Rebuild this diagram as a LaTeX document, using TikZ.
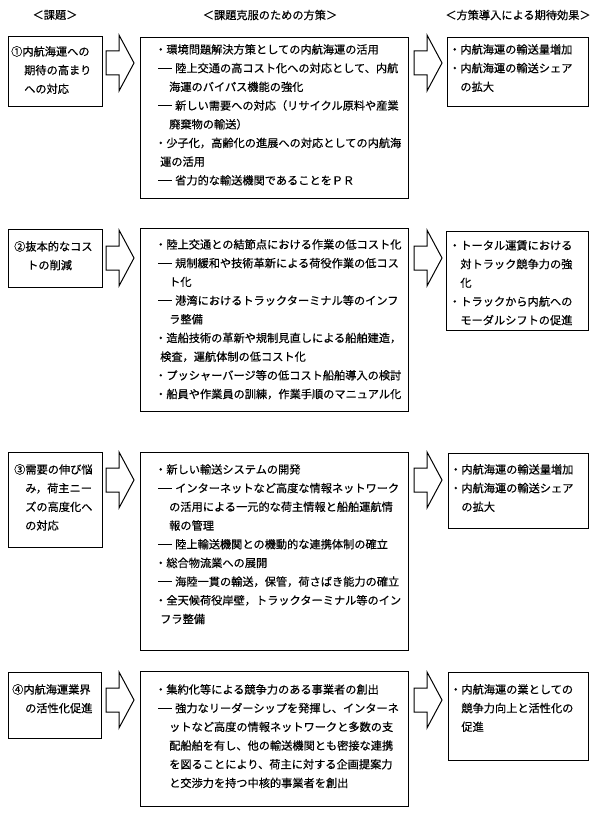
\documentclass[tikz,border=0pt]{standalone}
\usepackage{fontspec}
\newfontfamily\jpfont[FakeBold=0.4]{Noto Sans CJK JP}
\usetikzlibrary{positioning}

\tikzset{
  frame/.style={draw, line width=1.1pt, inner sep=0pt, anchor=north west},
  bodytext/.style={anchor=north west, inner sep=0pt, align=left,
     font=\jpfont\fontsize{11.2}{18.7}\selectfont},
  sidetext/.style={bodytext, font=\jpfont\fontsize{11.2}{18.7}\selectfont},
  heading/.style={inner sep=0pt, font=\jpfont\fontsize{11.2}{13}\selectfont},
  fatarrow/.pic={
    \draw[line width=1pt, line join=miter]
      (0,-12) -- (13,-12) -- (13,-28) -- (28,0) -- (13,28) -- (13,12) -- (0,12) -- cycle;
  }
}
\newcommand{\bdash}{\hspace{3pt}\rule[3.6pt]{14pt}{0.9pt}\hspace{3pt}}
\newcommand{\dind}{\hspace{14pt}}
\newcommand{\bind}{\hspace{5pt}}

\begin{document}
\begin{tikzpicture}[x=1pt, y=-1pt]
   \useasboundingbox (0,0) rectangle (600,813);
   % Headings
   \node[heading] (h1) at (55,15) {＜課題＞};
   \node[heading] (h2) at (270,15) {＜課題克服のための方策＞};
   \node[heading] (h3) at (518,15) {＜方策導入による期待効果＞};

   % Row 1
   \node[frame, minimum width=94pt, minimum height=70pt] (p1) at (8,36) {};
   \node[sidetext] (p1t) at (11,46) {①内航海運への\\\hspace{13pt}期待の高まり\\\hspace{13pt}への対応};
   \pic at (106,63) {fatarrow};
   \node[frame, minimum width=268pt, minimum height=161pt] (m1) at (140,37) {};
   \node[bodytext] (m1t) at (155,44) {・環境問題解決方策としての内航海運の活用\\
\bdash 陸上交通の高コスト化への対応として、内航\\
\dind 海運のバイパス機能の強化\\
\bdash 新しい需要への対応（リサイクル原料や産業\\
\dind 廃棄物の輸送）\\
・少子化，高齢化の進展への対応としての内航海\\
\bind 運の活用\\
\bdash 省力的な輸送機関であることをＰＲ};
   \pic at (414,63) {fatarrow};
   \node[frame, minimum width=141pt, minimum height=69pt] (e1) at (447,37) {};
   \node[sidetext] (e1t) at (449,44) {・内航海運の輸送量増加\\・内航海運の輸送シェア\\　の拡大};

   % Row 2
   \node[frame, minimum width=94pt, minimum height=58pt] (p2) at (8,229) {};
   \node[sidetext] (p2t) at (14,241) {②抜本的なコス\\\hspace{13pt}トの削減};
   \pic at (106,258) {fatarrow};
   \node[frame, minimum width=268pt, minimum height=183pt] (m2) at (140,228) {};
   \node[bodytext] (m2t) at (155,239) {・陸上交通との結節点における作業の低コスト化\\
\bdash 規制緩和や技術革新による荷役作業の低コス\\
\dind ト化\\
\bdash 港湾におけるトラックターミナル等のインフ\\
\dind ラ整備\\
・造船技術の革新や規制見直しによる船舶建造，\\
\bind 検査，運航体制の低コスト化\\
・プッシャーバージ等の低コスト船舶導入の検討\\
・船員や作業員の訓練，作業手順のマニュアル化};
   \pic at (414,258) {fatarrow};
   \node[frame, minimum width=142pt, minimum height=99pt] (e2) at (446,231) {};
   \node[sidetext] (e2t) at (449,240) {・トータル運賃における\\　対トラック競争力の強\\　化\\・トラックから内航への\\　モーダルシフトの促進};

   % Row 3
   \node[frame, minimum width=94pt, minimum height=95pt] (p3) at (8,452) {};
   \node[sidetext] (p3t) at (14,464) {③需要の伸び悩\\\hspace{11pt}み，荷主ニー\\\hspace{11pt}ズの高度化へ\\\hspace{11pt}の対応};
   \pic at (106,480) {fatarrow};
   \node[frame, minimum width=268pt, minimum height=198pt] (m3) at (140,452) {};
   \node[bodytext] (m3t) at (155,464) {・新しい輸送システムの開発\\
\bdash インターネットなど高度な情報ネットワーク\\
\dind の活用による一元的な荷主情報と船舶運航情\\
\dind 報の管理\\
\bdash 陸上輸送機関との機動的な連携体制の確立\\
・総合物流業への展開\\
\bdash 海陸一貫の輸送，保管，荷さばき能力の確立\\
・全天候荷役岸壁，トラックターミナル等のイン\\
\bind フラ整備};
   \pic at (414,480) {fatarrow};
   \node[frame, minimum width=140pt, minimum height=75pt] (e3) at (448,453) {};
   \node[sidetext] (e3t) at (450,464) {・内航海運の輸送量増加\\・内航海運の輸送シェア\\　の拡大};

   % Row 4
   \node[frame, minimum width=93pt, minimum height=66pt] (p4) at (8,672) {};
   \node[sidetext] (p4t) at (12,684) {④内航海運業界\\\hspace{13pt}の活性化促進};
   \pic at (106,700) {fatarrow};
   \node[frame, minimum width=268pt, minimum height=135pt] (m4) at (140,671) {};
   \node[bodytext] (m4t) at (155,684) {・集約化等による競争力のある事業者の創出\\
\bdash 強力なリーダーシップを発揮し、インターネ\\
\dind ットなど高度の情報ネットワークと多数の支\\
\dind 配船舶を有し、他の輸送機関とも密接な連携\\
\dind を図ることにより、荷主に対する企画提案力\\
\dind と交渉力を持つ中核的事業者を創出};
   \pic at (414,700) {fatarrow};
   \node[frame, minimum width=140pt, minimum height=88pt] (e4) at (448,672) {};
   \node[sidetext] (e4t) at (450,684) {・内航海運の業としての\\　競争力向上と活性化の\\　促進};
\end{tikzpicture}
\end{document}
